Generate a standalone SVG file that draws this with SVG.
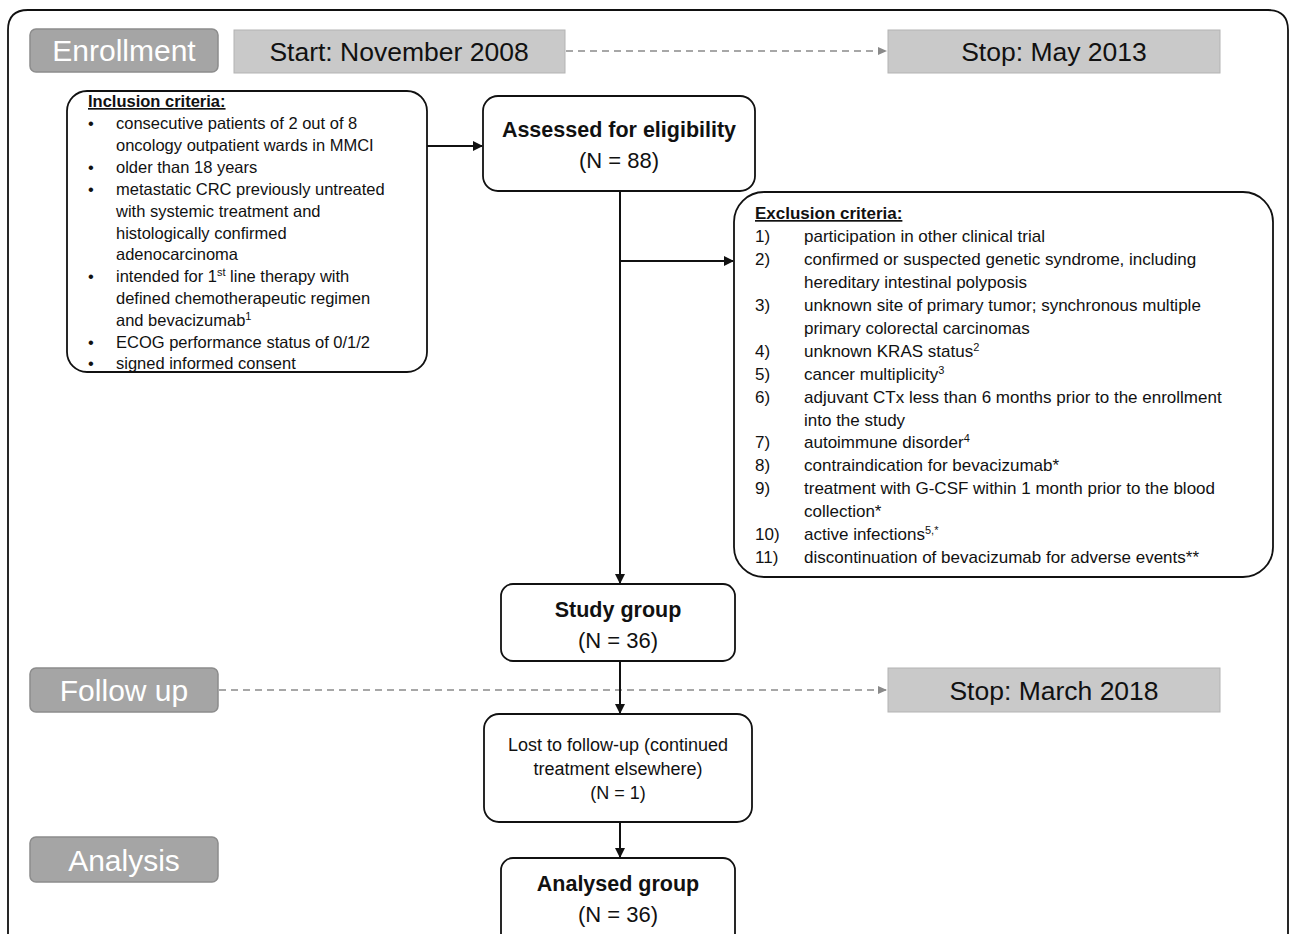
<svg xmlns="http://www.w3.org/2000/svg" width="1290" height="934" viewBox="0 0 1290 934">
<style>
text{font-family:"Liberation Sans",Arial,sans-serif;fill:#111}
.phase{fill:#a5a5a5;stroke:#8c8c8c;stroke-width:1.5}
.phaset{fill:#fff;font-size:30px}
.date{fill:#c9c9c9;stroke:#b3b3b3;stroke-width:1}
.datet{font-size:26.5px}
.node{fill:#fff;stroke:#111;stroke-width:1.8}
.b{font-weight:bold;font-size:21.5px}
.n{font-size:22px}
.inc{font-size:16.5px}
.exc{font-size:17px}
.lost{font-size:18px}
.sup{font-size:11px}
.conn{stroke:#111;stroke-width:2;fill:none}
.dash{stroke:#8a8a8a;stroke-width:1.6;fill:none;stroke-dasharray:7 5}
</style>
<defs>
<marker id="ah" markerWidth="10" markerHeight="10" refX="9" refY="5" orient="auto" markerUnits="userSpaceOnUse"><path d="M0,0 L10,5 L0,10 z" fill="#111"/></marker>
<marker id="ahg" markerWidth="10" markerHeight="10" refX="9" refY="5" orient="auto" markerUnits="userSpaceOnUse"><path d="M0,1 L9,5 L0,9 z" fill="#8a8a8a"/></marker>
</defs>
<rect width="1290" height="934" fill="#fff"/>
<path d="M8,934 L8,30 Q8,10 28,10 L1268,10 Q1288,10 1288,30 L1288,934" fill="none" stroke="#111" stroke-width="1.8"/>

<g id="enrollment"><rect class="phase" x="30" y="29" width="188" height="43" rx="6"/><text class="phaset" x="124" y="61" text-anchor="middle">Enrollment</text></g>
<g id="start"><rect class="date" x="234" y="30" width="331" height="43"/><text class="datet" x="399" y="61" text-anchor="middle">Start: November 2008</text></g>
<g id="stop1"><rect class="date" x="888" y="30" width="332" height="43"/><text class="datet" x="1054" y="61" text-anchor="middle">Stop: May 2013</text></g>
<g id="followup"><rect class="phase" x="30" y="668" width="188" height="44" rx="6"/><text class="phaset" x="124" y="701" text-anchor="middle">Follow up</text></g>
<g id="stop2"><rect class="date" x="888" y="668" width="332" height="44"/><text class="datet" x="1054" y="700" text-anchor="middle">Stop: March 2018</text></g>
<g id="analysis"><rect class="phase" x="30" y="837" width="188" height="45" rx="6"/><text class="phaset" x="124" y="871" text-anchor="middle">Analysis</text></g>

<g id="inclusion">
<rect class="node" x="67" y="91" width="360" height="281" rx="20"/>
<text class="inc" x="88" y="107" font-weight="bold" text-decoration="underline" font-size="15.5">Inclusion criteria:</text>
<text class="inc" x="88" y="129">•</text><text class="inc" x="116" y="129">consecutive patients of 2 out of 8</text>
<text class="inc" x="116" y="151">oncology outpatient wards in MMCI</text>
<text class="inc" x="88" y="173">•</text><text class="inc" x="116" y="173">older than 18 years</text>
<text class="inc" x="88" y="195">•</text><text class="inc" x="116" y="195">metastatic CRC previously untreated</text>
<text class="inc" x="116" y="217">with systemic treatment and</text>
<text class="inc" x="116" y="239">histologically confirmed</text>
<text class="inc" x="116" y="260">adenocarcinoma</text>
<text class="inc" x="88" y="282">•</text><text class="inc" x="116" y="282">intended for 1<tspan class="sup" dy="-6">st</tspan><tspan dy="6"> line therapy with</tspan></text>
<text class="inc" x="116" y="304">defined  chemotherapeutic regimen</text>
<text class="inc" x="116" y="326">and bevacizumab<tspan class="sup" dy="-6">1</tspan></text>
<text class="inc" x="88" y="348">•</text><text class="inc" x="116" y="348">ECOG performance status of 0/1/2</text>
<text class="inc" x="88" y="369">•</text><text class="inc" x="116" y="369">signed informed consent</text>
</g>

<g id="assessed">
<rect class="node" x="483" y="96" width="272" height="95" rx="15"/>
<text class="b" x="619" y="137" text-anchor="middle">Assessed for eligibility</text>
<text class="n" x="619" y="168" text-anchor="middle">(N = 88)</text>
</g>

<g id="exclusion">
<rect class="node" x="734" y="192" width="539" height="385" rx="30"/>
<text class="exc" x="755" y="219" font-weight="bold" text-decoration="underline" font-size="16">Exclusion criteria:</text>
<text class="exc" x="755" y="242">1)</text><text class="exc" x="804" y="242">participation in other clinical trial</text>
<text class="exc" x="755" y="265">2)</text><text class="exc" x="804" y="265">confirmed or suspected genetic syndrome, including</text>
<text class="exc" x="804" y="288">hereditary intestinal polyposis</text>
<text class="exc" x="755" y="311">3)</text><text class="exc" x="804" y="311">unknown site of primary tumor; synchronous  multiple</text>
<text class="exc" x="804" y="334">primary colorectal carcinomas</text>
<text class="exc" x="755" y="357">4)</text><text class="exc" x="804" y="357">unknown KRAS status<tspan class="sup" dy="-6">2</tspan></text>
<text class="exc" x="755" y="380">5)</text><text class="exc" x="804" y="380">cancer multiplicity<tspan class="sup" dy="-6">3</tspan></text>
<text class="exc" x="755" y="403">6)</text><text class="exc" x="804" y="403">adjuvant CTx less than 6 months prior to the enrollment</text>
<text class="exc" x="804" y="426">into the study</text>
<text class="exc" x="755" y="448">7)</text><text class="exc" x="804" y="448">autoimmune disorder<tspan class="sup" dy="-6">4</tspan></text>
<text class="exc" x="755" y="471">8)</text><text class="exc" x="804" y="471">contraindication for bevacizumab*</text>
<text class="exc" x="755" y="494">9)</text><text class="exc" x="804" y="494">treatment with G-CSF within 1 month prior to the blood</text>
<text class="exc" x="804" y="517">collection*</text>
<text class="exc" x="755" y="540">10)</text><text class="exc" x="804" y="540">active infections<tspan class="sup" dy="-6">5,*</tspan></text>
<text class="exc" x="755" y="563">11)</text><text class="exc" x="804" y="563">discontinuation of bevacizumab for adverse events**</text>
</g>

<g id="study">
<rect class="node" x="501" y="584" width="234" height="77" rx="12"/>
<text class="b" x="618" y="617" text-anchor="middle">Study group</text>
<text class="n" x="618" y="648" text-anchor="middle">(N = 36)</text>
</g>

<g id="lost">
<rect class="node" x="484" y="714" width="268" height="108" rx="15"/>
<text class="lost" x="618" y="751" text-anchor="middle">Lost to follow-up (continued</text>
<text class="lost" x="618" y="775" text-anchor="middle">treatment elsewhere)</text>
<text class="lost" x="618" y="799" text-anchor="middle">(N = 1)</text>
</g>

<g id="analysed">
<rect class="node" x="501" y="858" width="234" height="90" rx="12"/>
<text class="b" x="618" y="891" text-anchor="middle">Analysed group</text>
<text class="n" x="618" y="922" text-anchor="middle">(N = 36)</text>
</g>

<g id="connectors">
<path class="dash" d="M566,51 L887,51" marker-end="url(#ahg)"/>
<path class="dash" d="M219,690 L887,690" marker-end="url(#ahg)"/>
<path class="conn" d="M427,146 L482,146" marker-end="url(#ah)"/>
<path class="conn" d="M620,191 L620,583" marker-end="url(#ah)"/>
<path class="conn" d="M620,261 L733,261" marker-end="url(#ah)"/>
<path class="conn" d="M620,661 L620,713" marker-end="url(#ah)"/>
<path class="conn" d="M620,822 L620,857" marker-end="url(#ah)"/>
</g>
</svg>
